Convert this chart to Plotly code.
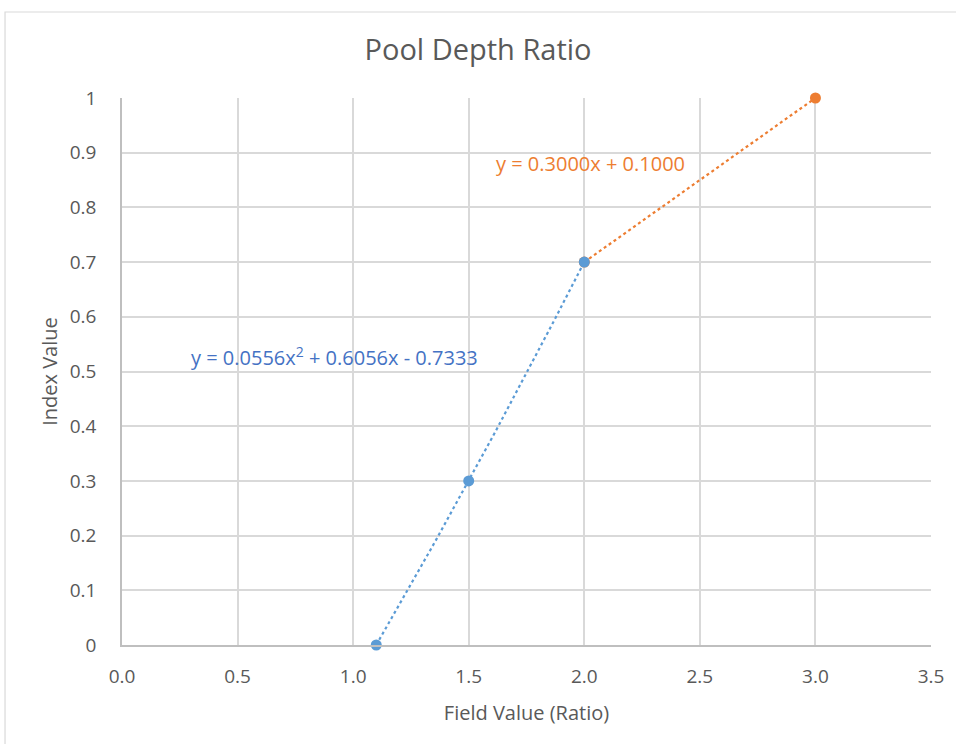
import numpy as np
import plotly.graph_objects as go

# Measured points for each segment of the index curve
low_x = [1.1, 1.5, 2.0]
low_y = [0.0, 0.3, 0.7]
high_x = [2.0, 3.0]
high_y = [0.7, 1.0]

# Trendline coefficients (highest power first)
low_coef = [0.0556, 0.6056, -0.7333]
high_coef = [0.3000, 0.1000]

low_label = "y = 0.0556x<sup>2</sup> + 0.6056x - 0.7333"
high_label = "y = 0.3000x + 0.1000"

x_ticks = [0.0, 0.5, 1.0, 1.5, 2.0, 2.5, 3.0, 3.5]
y_ticks = [0, 0.1, 0.2, 0.3, 0.4, 0.5, 0.6, 0.7, 0.8, 0.9, 1]

BLUE = "#5B9BD5"
ORANGE = "#ED7D31"
BLUE_TEXT = "#4472C4"
TEXT = "#595959"
GRID = "#D9D9D9"
FONT = "Open Sans"

fig = go.Figure()

# Trendlines over each segment's data range
lx = np.linspace(min(low_x), max(low_x), 60)
fig.add_trace(go.Scatter(x=lx, y=np.polyval(low_coef, lx), mode="lines",
                         line=dict(color=BLUE, width=2.2, dash="dot"),
                         hoverinfo="skip", showlegend=False))
hx = np.linspace(min(high_x), max(high_x), 30)
fig.add_trace(go.Scatter(x=hx, y=np.polyval(high_coef, hx), mode="lines",
                         line=dict(color=ORANGE, width=2.2, dash="dot"),
                         hoverinfo="skip", showlegend=False))

# Upper segment markers first so the shared point shows the lower segment's colour
fig.add_trace(go.Scatter(x=high_x, y=high_y, mode="markers",
                         marker=dict(color=ORANGE, size=11), cliponaxis=False,
                         showlegend=False))
fig.add_trace(go.Scatter(x=low_x, y=low_y, mode="markers",
                         marker=dict(color=BLUE, size=11), cliponaxis=False,
                         showlegend=False))

fig.add_annotation(x=0.29, y=0.528, xref="x", yref="y", text=low_label,
                   showarrow=False, xanchor="left", yanchor="middle",
                   font=dict(family=FONT, size=20, color=BLUE_TEXT))
fig.add_annotation(x=1.609, y=0.881, xref="x", yref="y", text=high_label,
                   showarrow=False, xanchor="left", yanchor="middle",
                   font=dict(family=FONT, size=20, color=ORANGE))

# Chart area border
fig.add_shape(type="rect", xref="paper", yref="paper",
              x0=-0.1446, x1=1.06, y0=-0.3, y1=1.1572,
              line=dict(color=GRID, width=1.2), layer="below")

fig.update_layout(
    width=956, height=744,
    margin=dict(l=122, r=25, t=98, b=99),
    paper_bgcolor="white", plot_bgcolor="white",
    title=dict(text="Pool Depth Ratio", x=0.5, xanchor="center",
               y=1 - 50 / 744, yanchor="middle",
               font=dict(family=FONT, size=29, color=TEXT)),
    font=dict(family=FONT, color=TEXT),
    xaxis=dict(range=[0, 3.5], tickvals=x_ticks, tickformat=".1f",
               showgrid=True, gridcolor=GRID, gridwidth=1.5,
               showline=True, linecolor="#BFBFBF", linewidth=1.5,
               zeroline=False, ticks="", ticklabelstandoff=13,
               tickfont=dict(family=FONT, size=19, color=TEXT),
               title=dict(text="Field Value (Ratio)", standoff=18,
                          font=dict(family=FONT, size=20, color=TEXT))),
    yaxis=dict(range=[0, 1], tickvals=y_ticks,
               showgrid=True, gridcolor=GRID, gridwidth=1.5,
               showline=True, linecolor="#BFBFBF", linewidth=1.5,
               zeroline=False, ticks="", ticklabelstandoff=20,
               tickfont=dict(family=FONT, size=19, color=TEXT),
               title=dict(text="Index Value", standoff=7,
                          font=dict(family=FONT, size=20, color=TEXT))),
)

fig.write_html("out.html")
